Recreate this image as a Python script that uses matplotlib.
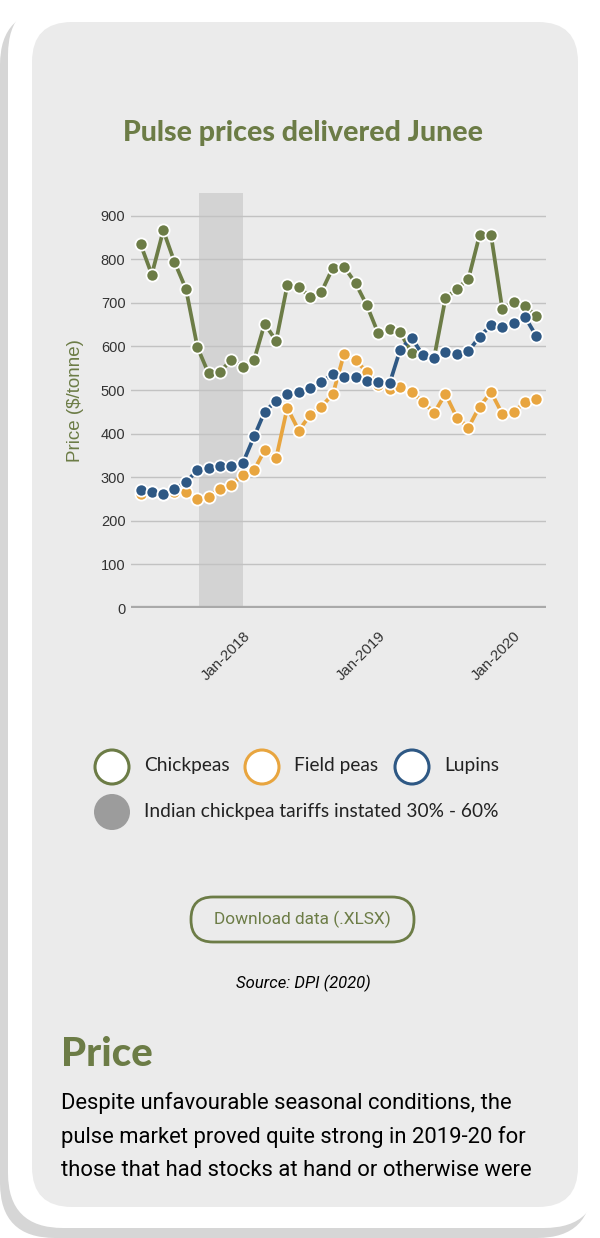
import numpy as np
import pandas as pd
import matplotlib
matplotlib.use("Agg")
import matplotlib.pyplot as plt
from matplotlib.patches import FancyBboxPatch, Circle
from matplotlib.transforms import ScaledTranslation

# monthly prices, $/tonne, delivered Junee
months = pd.date_range("2017-04-01", periods=36, freq="MS")
chickpeas = [834, 765, 866, 794, 732, 598, 538, 541, 570, 552, 570, 652,
             613, 740, 737, 714, 725, 781, 783, 745, 695, 630, 641, 632,
             586, 582, 576, 710, 732, 755, 855, 855, 687, 702, 693, 670]
field_peas = [261, 265, 262, 266, 265, 250, 255, 274, 282, 305, 317, 362,
              344, 459, 407, 442, 462, 491, 583, 568, 542, 511, 502, 506,
              496, 473, 448, 491, 437, 414, 462, 495, 446, 450, 472, 479]
lupins = [271, 266, 262, 274, 288, 317, 321, 326, 326, 332, 394, 450,
          475, 492, 495, 505, 518, 537, 529, 531, 521, 518, 516, 592,
          620, 580, 573, 587, 583, 589, 622, 649, 644, 653, 667, 625]
series_names = ["Chickpeas", "Field peas", "Lupins"]
tariff_label = "Indian chickpea tariffs instated 30% - 60%"
tariff_start = pd.Timestamp("2017-09-05")
tariff_end = pd.Timestamp("2018-01-01")
yticks = [0, 100, 200, 300, 400, 500, 600, 700, 800, 900]

body = ["Despite unfavourable seasonal conditions, the",
        "pulse market proved quite strong in 2019-20 for",
        "those that had stocks at hand or otherwise were"]

OLIVE = "#6c7c46"
ORANGE = "#e8a53f"
BLUE = "#2e5884"
BG = "#ebebeb"
colors = [OLIVE, ORANGE, BLUE]

W, H = 600, 1238
fig = plt.figure(figsize=(W / 100, H / 100), dpi=100)
fig.patch.set_facecolor("white")

# page / card background in pixel coords
bg = fig.add_axes([0, 0, 1, 1])
bg.set_xlim(0, W)
bg.set_ylim(H, 0)
bg.axis("off")
bg.add_patch(FancyBboxPatch((0, 10), 592, 1238 - 10,
                            boxstyle="round,pad=0,rounding_size=55",
                            fc="#d6d6d6", ec="none"))
bg.add_patch(FancyBboxPatch((8, 0), 591, 1228,
                            boxstyle="round,pad=0,rounding_size=55",
                            fc="white", ec="none"))
bg.add_patch(FancyBboxPatch((32, 22), 578 - 32, 1207 - 22,
                            boxstyle="round,pad=0,rounding_size=40",
                            fc=BG, ec="none"))

# title
bg.text(303, 133, "Pulse prices delivered Junee", ha="center", va="center",
        fontsize=20.5, fontweight="black", family="Lato", color=OLIVE)

# chart
ax = fig.add_axes([131 / W, (H - 608) / H, 415 / W, 415 / H])
ax.set_facecolor("none")
for s in ax.spines.values():
    s.set_visible(False)

ax.axvspan(tariff_start, tariff_end, color="#d3d3d3", zorder=0, lw=0)
for v in yticks[1:]:
    ax.axhline(v, color="#c2c2c2", lw=1.0, zorder=1)
ax.axhline(0, color="#a9a9a9", lw=3.8, zorder=1)

for vals, c in zip([chickpeas, field_peas, lupins], colors):
    ax.plot(months, vals, color=c, lw=2.7, marker="o", ms=8.8,
            mfc=c, mec="white", mew=1.3, zorder=3)

pad = pd.Timedelta(days=26)
ax.set_xlim(months[0] - pad, months[-1] + pd.Timedelta(days=27))
ax.set_ylim(0, 952)
ax.set_yticks(yticks)
ax.set_yticklabels([str(v) for v in yticks], family="Liberation Sans",
                   fontsize=10.5, color="#333333")
jan = [m for m in months if m.month == 1]
ax.set_xticks(jan)
ax.set_xticklabels([m.strftime("Jan-%Y") for m in jan], rotation=45,
                   ha="right", rotation_mode="anchor",
                   family="Liberation Sans", fontsize=10.8, color="#333333")
shift = ScaledTranslation(-17 / 100, 0, fig.dpi_scale_trans)
for lab in ax.get_xticklabels():
    lab.set_transform(lab.get_transform() + shift)
ax.tick_params(axis="both", length=0)
ax.tick_params(axis="y", pad=4)
ax.tick_params(axis="x", pad=15)
ax.set_ylabel("Price ($/tonne)", family="Liberation Sans", fontsize=13.5,
              color=OLIVE, labelpad=12)

# legend
leg_x = [112, 262, 412]
for x, name, c in zip(leg_x, series_names, colors):
    bg.add_patch(Circle((x, 767), 17, fc="white", ec=c, lw=2.2))
    bg.text(x + 32, 766, name, va="center", ha="left", family="Lato",
            fontsize=13.8, color="#222222")
bg.add_patch(Circle((112, 812), 18, fc="#9c9c9c", ec="none"))
bg.text(144, 811, tariff_label, va="center", ha="left", family="Lato",
        fontsize=13.8, color="#222222")

# button + source
bg.add_patch(FancyBboxPatch((191, 897), 414 - 191, 942 - 897,
                            boxstyle="round,pad=0,rounding_size=22",
                            fc="none", ec=OLIVE, lw=2))
bg.text(302.5, 919.5, "Download data (.XLSX)", ha="center", va="center",
        family="Roboto", fontsize=12.4, color=OLIVE)
bg.text(303, 983, "Source: DPI (2020)", ha="center", va="center",
        family="Roboto", style="italic", fontsize=12, color="black")

# heading + body
bg.text(61, 1055, "Price", ha="left", va="center", family="Lato",
        fontweight="black", fontsize=29, color=OLIVE)
for i, line in enumerate(body):
    bg.text(61, 1103 + i * 33.5, line, ha="left", va="center",
            family="Roboto", fontsize=15.8, color="black")

fig.savefig("out.png", dpi=100, facecolor="white")
